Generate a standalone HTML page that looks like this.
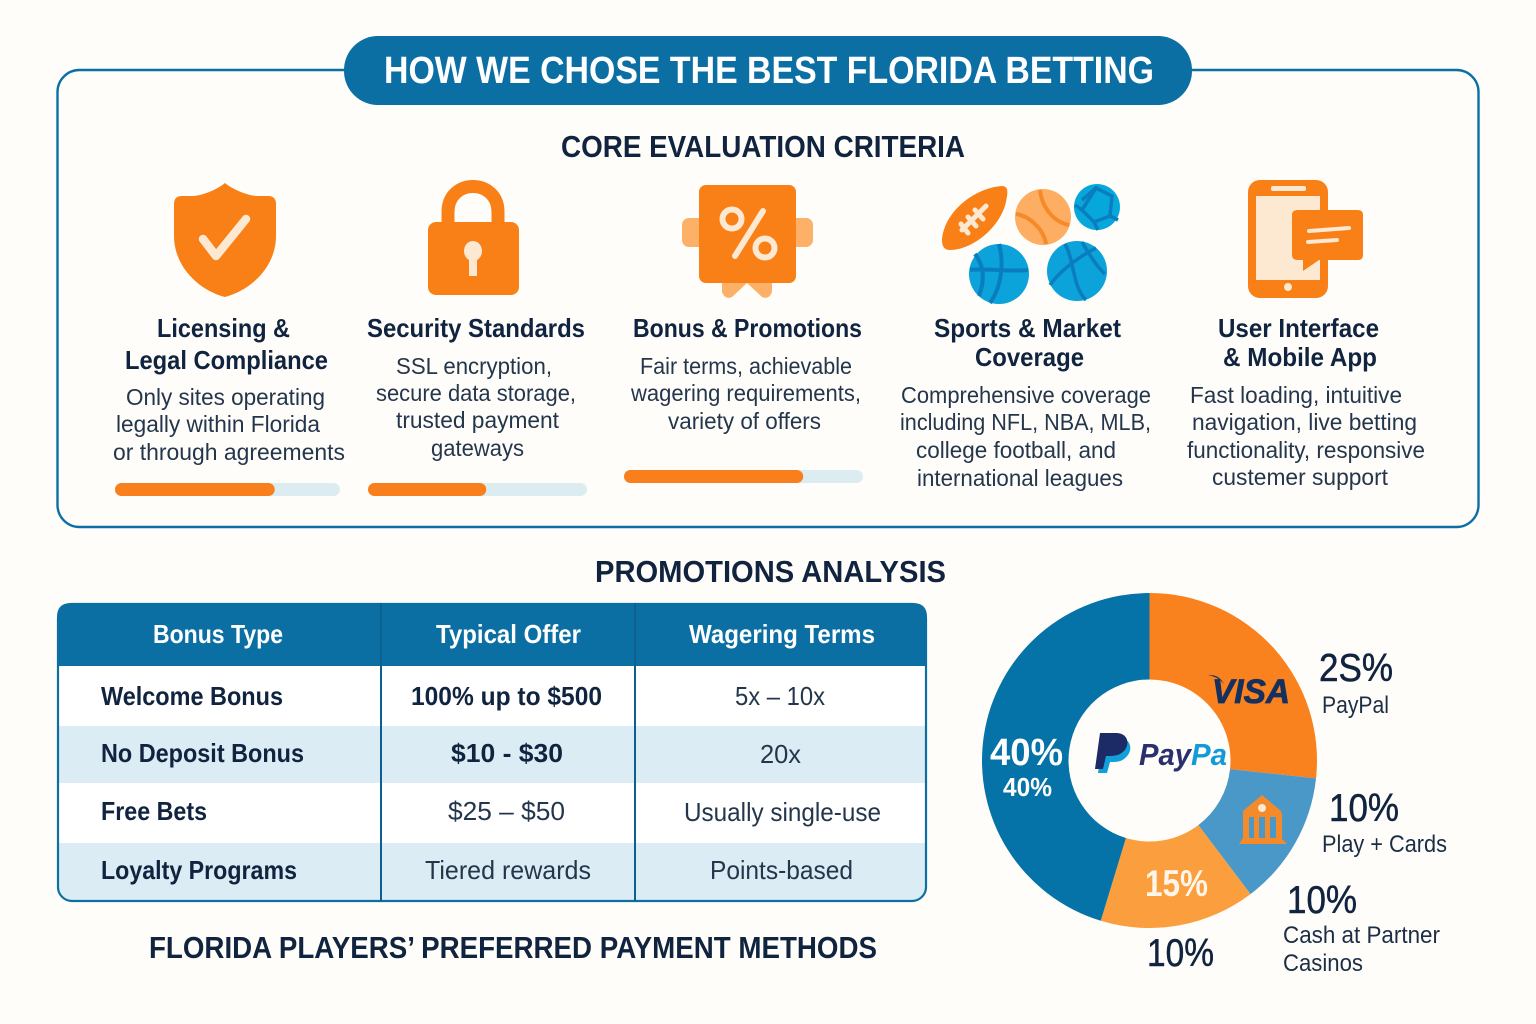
<!DOCTYPE html>
<html lang="en">
<head>
<meta charset="utf-8">
<title>How We Chose the Best Florida Betting</title>
<style>
html,body{margin:0;padding:0;background:#fffdf9}
svg{display:block}
text{font-family:"Liberation Sans",sans-serif;fill:#14263f;transform:translateY(-1px)}
.h{font-weight:700;font-size:26px;fill:#10233f}
.b{font-size:23.5px;fill:#24364c}
.sec{font-weight:700;font-size:31px;fill:#10233f}
.th{font-weight:700;font-size:26px;fill:#fff}
.rb{font-weight:700;font-size:26px;fill:#10233f}
.rr{font-size:26px;fill:#24364c}
.big{font-size:39px;fill:#10233f;stroke:#10233f;stroke-width:.5px}
.lab{font-size:24px;fill:#1c2e46}
</style>
</head>
<body>
<svg id="art" xmlns="http://www.w3.org/2000/svg" width="1536" height="1024" viewBox="0 0 1536 1024">
<rect width="1536" height="1024" fill="#fffdf9"/>
<rect x="57.5" y="70" width="1421" height="457" rx="22" fill="#fffdf9" stroke="#0b6fa4" stroke-width="2.4"/>
<rect x="344" y="36" width="848" height="69" rx="34" fill="#0b6fa4"/>
<text x="384" y="84" font-size="38" font-weight="700" style="fill:#fff" textLength="770" lengthAdjust="spacingAndGlyphs">HOW WE CHOSE THE BEST FLORIDA BETTING</text>
<text class="sec" x="561" y="158" textLength="404" lengthAdjust="spacingAndGlyphs">CORE EVALUATION CRITERIA</text>

<!-- shield -->
<g>
<path d="M225 183 C232 189 246 195 256 196 L268 196 Q276 196 276 204 L276 236 C276 266 252 290 225 297 C198 290 174 266 174 236 L174 204 Q174 196 182 196 L194 196 C204 195 218 189 225 183Z" fill="#f97f17"/>
<path d="M203 239 L216 256 L246 219" fill="none" stroke="#fde8d2" stroke-width="8.5" stroke-linecap="round" stroke-linejoin="round"/>
</g>
<!-- lock -->
<g>
<path d="M448 226 L448 212 C448 178 498 178 498 212 L498 226" fill="none" stroke="#f97f17" stroke-width="13"/>
<rect x="428" y="222" width="91" height="73" rx="8" fill="#f97f17"/>
<ellipse cx="473" cy="251" rx="9" ry="10" fill="#fde8d2"/>
<rect x="469" y="254" width="8" height="22" fill="#fde8d2"/>
</g>
<!-- percent -->
<g>
<rect x="682" y="218" width="131" height="29" rx="7" fill="#fdb068"/>
<path d="M722 280 L722 292 Q725 300 732 297 L747 283 L762 297 Q769 300 772 292 L772 280Z" fill="#fdb068"/>
<rect x="699" y="185" width="97" height="98" rx="7" fill="#f97f17"/>
<circle cx="732" cy="219" r="9.5" fill="none" stroke="#fde8d2" stroke-width="6"/>
<circle cx="765" cy="248" r="9.5" fill="none" stroke="#fde8d2" stroke-width="6"/>
<line x1="763" y1="211" x2="735" y2="256" stroke="#fde8d2" stroke-width="6" stroke-linecap="round"/>
</g>
<!-- sports -->
<g>
<path d="M942 240 C944 212 974 188 1002 186 C1010 186 1007 196 1006 202 C1000 228 972 250 950 250 C944 250 942 246 942 240Z" fill="#f97f17"/>
<g stroke="#fde8d2" stroke-width="5" stroke-linecap="round" fill="none">
<line x1="962" y1="230" x2="986" y2="206"/><line x1="961" y1="224" x2="968" y2="233"/><line x1="968" y1="217" x2="976" y2="226"/><line x1="975" y1="210" x2="983" y2="219"/>
</g>
<circle cx="1043" cy="217" r="28" fill="#fdae62"/>
<path d="M1040 190 C1042 208 1054 222 1069 225 M1016 214 C1030 216 1044 230 1046 244" fill="none" stroke="#f58a2a" stroke-width="4"/>
<circle cx="1097" cy="207" r="23" fill="#06a8dc"/>
<path d="M1082 200 L1096 188 M1096 188 L1112 196 L1110 216 L1094 222 L1082 210Z M1082 210 L1075 205 M1110 216 L1118 220 M1094 222 L1098 230" fill="none" stroke="#0a7dbe" stroke-width="3.5"/>
<circle cx="999" cy="274" r="30" fill="#0ba3d9"/>
<path d="M999 244 C1004 262 1002 286 990 303 M970 270 C982 268 1012 272 1028 270 M975 254 C984 266 985 280 979 296" fill="none" stroke="#0a7dbe" stroke-width="4"/>
<circle cx="1077" cy="271" r="30" fill="#0ba3d9"/>
<path d="M1050 285 C1062 268 1084 254 1096 248 M1065 244 C1075 262 1072 286 1086 300 M1082 242 C1090 256 1098 268 1105 274" fill="none" stroke="#0a7dbe" stroke-width="3.5"/>
</g>
<!-- phone -->
<g>
<rect x="1248" y="180" width="80" height="118" rx="12" fill="#f97f17"/>
<rect x="1256" y="196" width="64" height="84" fill="#fde8d2"/>
<rect x="1271" y="186" width="35" height="5" rx="2" fill="#fde8d2"/>
<circle cx="1288" cy="287" r="4" fill="#fde8d2"/>
<path d="M1298 210 L1358 210 Q1363 210 1363 215 L1363 255 Q1363 260 1358 260 L1319 260 L1303 271 L1303 260 L1298 260 Q1292 260 1292 255 L1292 215 Q1292 210 1298 210Z" fill="#f97f17"/>
<line x1="1309" y1="231" x2="1349" y2="228" stroke="#fde8d2" stroke-width="4" stroke-linecap="round"/>
<line x1="1308" y1="242" x2="1337" y2="240" stroke="#fde8d2" stroke-width="4" stroke-linecap="round"/>
</g>

<!-- column 1 -->
<text class="h" x="157" y="338" textLength="133" lengthAdjust="spacingAndGlyphs">Licensing &amp;</text>
<text class="h" x="125" y="370" textLength="203" lengthAdjust="spacingAndGlyphs">Legal Compliance</text>
<text class="b" x="126" y="406" textLength="199" lengthAdjust="spacingAndGlyphs">Only sites operating</text>
<text class="b" x="116" y="433" textLength="204" lengthAdjust="spacingAndGlyphs">legally within Florida</text>
<text class="b" x="113" y="461" textLength="232" lengthAdjust="spacingAndGlyphs">or through agreements</text>
<!-- column 2 -->
<text class="h" x="367" y="338" textLength="218" lengthAdjust="spacingAndGlyphs">Security Standards</text>
<text class="b" x="396" y="375" textLength="156" lengthAdjust="spacingAndGlyphs">SSL encryption,</text>
<text class="b" x="376" y="402" textLength="200" lengthAdjust="spacingAndGlyphs">secure data storage,</text>
<text class="b" x="396" y="429" textLength="163" lengthAdjust="spacingAndGlyphs">trusted payment</text>
<text class="b" x="431" y="457" textLength="93" lengthAdjust="spacingAndGlyphs">gateways</text>
<!-- column 3 -->
<text class="h" x="633" y="338" textLength="229" lengthAdjust="spacingAndGlyphs">Bonus &amp; Promotions</text>
<text class="b" x="640" y="375" textLength="212" lengthAdjust="spacingAndGlyphs">Fair terms, achievable</text>
<text class="b" x="631" y="402" textLength="230" lengthAdjust="spacingAndGlyphs">wagering requirements,</text>
<text class="b" x="668" y="430" textLength="153" lengthAdjust="spacingAndGlyphs">variety of offers</text>
<!-- column 4 -->
<text class="h" x="934" y="338" textLength="187" lengthAdjust="spacingAndGlyphs">Sports &amp; Market</text>
<text class="h" x="975" y="367" textLength="109" lengthAdjust="spacingAndGlyphs">Coverage</text>
<text class="b" x="901" y="404" textLength="250" lengthAdjust="spacingAndGlyphs">Comprehensive coverage</text>
<text class="b" x="900" y="431" textLength="251" lengthAdjust="spacingAndGlyphs">including NFL, NBA, MLB,</text>
<text class="b" x="916" y="459" textLength="200" lengthAdjust="spacingAndGlyphs">college football, and</text>
<text class="b" x="917" y="487" textLength="206" lengthAdjust="spacingAndGlyphs">international leagues</text>
<!-- column 5 -->
<text class="h" x="1218" y="338" textLength="161" lengthAdjust="spacingAndGlyphs">User Interface</text>
<text class="h" x="1223" y="367" textLength="154" lengthAdjust="spacingAndGlyphs">&amp; Mobile App</text>
<text class="b" x="1190" y="404" textLength="212" lengthAdjust="spacingAndGlyphs">Fast loading, intuitive</text>
<text class="b" x="1192" y="431" textLength="225" lengthAdjust="spacingAndGlyphs">navigation, live betting</text>
<text class="b" x="1187" y="459" textLength="238" lengthAdjust="spacingAndGlyphs">functionality, responsive</text>
<text class="b" x="1212" y="486" textLength="176" lengthAdjust="spacingAndGlyphs">custemer support</text>

<g id="bars"></g>

<text class="sec" x="595" y="583" font-size="32" textLength="351" lengthAdjust="spacingAndGlyphs">PROMOTIONS ANALYSIS</text>

<!-- table -->
<g>
<rect x="58" y="610" width="868" height="290" rx="14" fill="#ffffff"/>
<rect x="58" y="726" width="868" height="57" fill="#dcecf4"/>
<path d="M58 843 H926 V887 Q926 900 913 900 H71 Q58 900 58 887Z" fill="#dcecf4"/>
<path d="M71 603 H913 Q927 603 927 617 V666 H57 V617 Q57 603 71 603Z" fill="#0b6fa4"/>
<rect x="58" y="604" width="868" height="297" rx="14" fill="none" stroke="#0b6fa4" stroke-width="2.2"/>
<line x1="381" y1="603" x2="381" y2="901" stroke="#0c5f8f" stroke-width="2"/>
<line x1="635" y1="603" x2="635" y2="901" stroke="#0c5f8f" stroke-width="2"/>
<text class="th" x="153" y="644" textLength="130" lengthAdjust="spacingAndGlyphs">Bonus Type</text>
<text class="th" x="436" y="644" textLength="145" lengthAdjust="spacingAndGlyphs">Typical Offer</text>
<text class="th" x="689" y="644" textLength="186" lengthAdjust="spacingAndGlyphs">Wagering Terms</text>
<text class="rb" x="101" y="706" textLength="182" lengthAdjust="spacingAndGlyphs">Welcome Bonus</text>
<text class="rb" x="411" y="706" textLength="191" lengthAdjust="spacingAndGlyphs">100% up to $500</text>
<text class="rr" x="735" y="706" textLength="90" lengthAdjust="spacingAndGlyphs">5x – 10x</text>
<text class="rb" x="101" y="763" textLength="203" lengthAdjust="spacingAndGlyphs">No Deposit Bonus</text>
<text class="rb" x="451" y="763" textLength="112" lengthAdjust="spacingAndGlyphs">$10 - $30</text>
<text class="rr" x="760" y="764" textLength="41" lengthAdjust="spacingAndGlyphs">20x</text>
<text class="rb" x="101" y="821" textLength="106" lengthAdjust="spacingAndGlyphs">Free Bets</text>
<text class="rr" x="448" y="821" textLength="117" lengthAdjust="spacingAndGlyphs">$25 – $50</text>
<text class="rr" x="684" y="822" textLength="197" lengthAdjust="spacingAndGlyphs">Usually single-use</text>
<text class="rb" x="101" y="880" textLength="196" lengthAdjust="spacingAndGlyphs">Loyalty Programs</text>
<text class="rr" x="425" y="880" textLength="166" lengthAdjust="spacingAndGlyphs">Tiered rewards</text>
<text class="rr" x="710" y="880" textLength="143" lengthAdjust="spacingAndGlyphs">Points-based</text>
</g>

<text class="sec" x="149" y="959" textLength="728" lengthAdjust="spacingAndGlyphs">FLORIDA PLAYERS’ PREFERRED PAYMENT METHODS</text>

<!-- donut -->
<g id="donut"></g>

<g>
<path d="M1208 675 C1216 675 1220 677 1224 684 L1220 680 C1216 677 1212 676 1208 675Z" fill="#14305f"/>
<text x="1212" y="704" font-size="34" font-weight="700" font-style="italic" style="fill:#14305f;stroke:#14305f;stroke-width:.8px" textLength="78" lengthAdjust="spacingAndGlyphs">VISA</text>
</g>
<g>
<path d="M1103 738 H1119 C1132 738 1134 752 1124 759 C1120 762 1116 762 1110 762 L1107 773 H1098Z" fill="#12a0d8"/>
<path d="M1100 733 H1116 C1130 733 1131 748 1120 754 C1116 756 1112 756 1106 756 L1103 769 H1095Z" fill="#1c2a66"/>
<text x="1139" y="766" font-size="31" font-weight="700" font-style="italic" style="fill:#2b2f6e" textLength="52" lengthAdjust="spacingAndGlyphs">Pay</text>
<text x="1191" y="766" font-size="31" font-weight="700" font-style="italic" style="fill:#129bd6" textLength="36" lengthAdjust="spacingAndGlyphs">Pa</text>
</g>
<g>
<path d="M1262 795 L1281 811 V813 H1243 V811Z" fill="#f58a2a"/>
<circle cx="1262" cy="808" r="4" fill="#fde8d2"/>
<rect x="1243" y="813" width="39" height="4" fill="#f58a2a"/>
<rect x="1243" y="817" width="6" height="21" fill="#f58a2a"/>
<rect x="1254" y="817" width="5" height="21" fill="#f58a2a"/>
<rect x="1265" y="817" width="5" height="21" fill="#f58a2a"/>
<rect x="1276" y="817" width="6" height="21" fill="#f58a2a"/>
<path d="M1243 838 H1281 L1287 844 H1239Z" fill="#f58a2a"/>
</g>

<text x="990" y="766" font-size="38" font-weight="700" style="fill:#fff" textLength="73" lengthAdjust="spacingAndGlyphs">40%</text>
<text x="1003" y="797" font-size="26" font-weight="700" style="fill:#fff" textLength="49" lengthAdjust="spacingAndGlyphs">40%</text>
<text x="1145" y="897" font-size="37" font-weight="700" style="fill:#fff5e8" textLength="63" lengthAdjust="spacingAndGlyphs">15%</text>
<text class="big" x="1319" y="682" textLength="74" lengthAdjust="spacingAndGlyphs">2S%</text>
<text class="lab" x="1322" y="714" textLength="67" lengthAdjust="spacingAndGlyphs">PayPal</text>
<text class="big" x="1329" y="822" textLength="70" lengthAdjust="spacingAndGlyphs">10%</text>
<text class="lab" x="1322" y="853" textLength="125" lengthAdjust="spacingAndGlyphs">Play + Cards</text>
<text class="big" x="1287" y="914" textLength="70" lengthAdjust="spacingAndGlyphs">10%</text>
<text class="lab" x="1283" y="944" textLength="157" lengthAdjust="spacingAndGlyphs">Cash at Partner</text>
<text class="lab" x="1283" y="972" textLength="80" lengthAdjust="spacingAndGlyphs">Casinos</text>
<text class="big" x="1147" y="967" textLength="67" lengthAdjust="spacingAndGlyphs">10%</text>
</svg>
<script>
// Donut slice shares as drawn in the picture (clockwise from 12 o'clock)
var sliceNames = ['card-visa', 'bank-transfer', 'partner-cash', 'paypal'];
var sliceValues = [26.7, 13, 15, 45.3];
var sliceColors = ['#f9821e', '#4a98c8', '#fb9e3d', '#0573a8'];
// Criteria progress bars: filled share in percent
var barNames = ['licensing', 'security', 'bonus'];
var barValues = [71, 54, 75];

var NS = 'http://www.w3.org/2000/svg';
var donut = document.getElementById('donut');
var cx = 1149.5, cy = 760.5, ro = 167.5, ri = 81;
var total = sliceValues.reduce(function (a, b) { return a + b; }, 0);
function angleScale(v) { return v / total * Math.PI * 2; }
function polar(r, a) { return [cx + r * Math.sin(a), cy - r * Math.cos(a)]; }
var run = 0;
sliceValues.forEach(function (v, i) {
  var a0 = angleScale(run), a1 = angleScale(run + v);
  run += v;
  var large = a1 - a0 > Math.PI ? 1 : 0;
  var p0 = polar(ro, a0), p1 = polar(ro, a1), p2 = polar(ri, a1), p3 = polar(ri, a0);
  var el = document.createElementNS(NS, 'path');
  el.setAttribute('d', 'M' + p0 + 'A' + ro + ' ' + ro + ' 0 ' + large + ' 1 ' + p1 + 'L' + p2 + 'A' + ri + ' ' + ri + ' 0 ' + large + ' 0 ' + p3 + 'Z');
  el.setAttribute('fill', sliceColors[i]);
  
  
  donut.appendChild(el);
});

var barsGroup = document.getElementById('bars');
function barLeft(i) { return [115, 368, 624][i]; }
function barWidth(i) { return [225, 219, 239][i]; }
function barTop(i) { return [483, 483, 470][i]; }
barValues.forEach(function (v, i) {
  var track = document.createElementNS(NS, 'rect');
  track.setAttribute('x', barLeft(i));
  track.setAttribute('y', barTop(i));
  track.setAttribute('width', barWidth(i));
  track.setAttribute('height', 13);
  track.setAttribute('rx', 6.5);
  track.setAttribute('fill', '#dcedf2');
  
  
  barsGroup.appendChild(track);
  var fill = document.createElementNS(NS, 'rect');
  fill.setAttribute('x', barLeft(i));
  fill.setAttribute('y', barTop(i));
  fill.setAttribute('width', barWidth(i) * v / 100);
  fill.setAttribute('height', 13);
  fill.setAttribute('rx', 6.5);
  fill.setAttribute('fill', '#f97f1c');
  
  
  barsGroup.appendChild(fill);
});
</script>
</body>
</html>
